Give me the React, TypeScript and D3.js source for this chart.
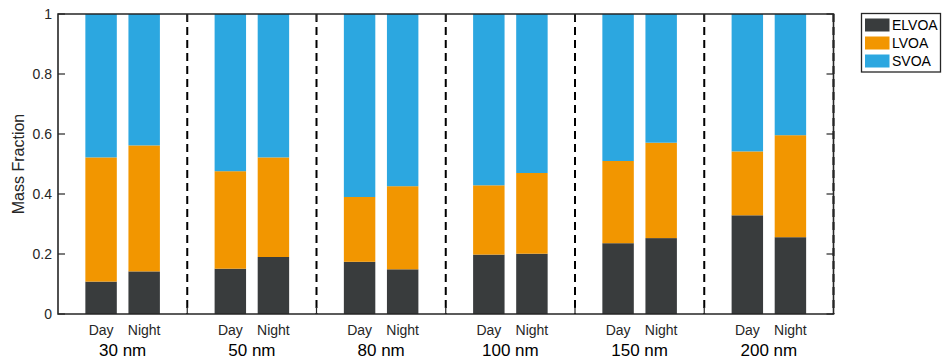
import React from "react";
import * as d3 from "d3";

const sizes = ["30 nm", "50 nm", "80 nm", "100 nm", "150 nm", "200 nm"];
const periods = ["Day", "Night"];
const seriesNames = ["ELVOA", "LVOA", "SVOA"];
const colors = ["#393c3d", "#f29600", "#2ca7e0"];
// ELVOA and LVOA fractions, order: 30 Day, 30 Night, 50 Day, ...
const elvoa = [0.108, 0.142, 0.151, 0.19, 0.174, 0.149, 0.198, 0.201, 0.236, 0.253, 0.329, 0.256];
const lvoa = [0.414, 0.42, 0.325, 0.332, 0.216, 0.277, 0.231, 0.269, 0.274, 0.318, 0.213, 0.34];
const svoa = elvoa.map((e, i) => 1 - e - lvoa[i]);
const yTicks = [0, 0.2, 0.4, 0.6, 0.8, 1];

export default function App() {
  const W = 945, H = 364;
  const left = 58, right = 833.5, top = 14, bottom = 314;
  const x = d3.scaleLinear().domain([0, 18]).range([left, right]);
  const y = d3.scaleLinear().domain([0, 1]).range([bottom, top]);
  const barW = 0.73;
  const data = elvoa.map((e, i) => ({ i, vals: [e, lvoa[i], svoa[i]] }));
  const stacked = d3.stack<any>().keys(["0", "1", "2"]).value((d: any, k: string) => d.vals[+k])(data);
  const pos = (i: number) => Math.floor(i / 2) * 3 + 1 + (i % 2);
  const font = "Arial, 'Liberation Sans', Helvetica, sans-serif";
  const axisColor = "#262626";
  const bounds = [3, 6, 9, 12, 15, 18];
  return (
    <svg width={W} height={H} style={{ position: "absolute", left: 0, top: 0, background: "#fff" }} fontFamily={font}>
      {stacked.map((layer, s) =>
        layer.map((d, i) => (
          <rect
            key={`${s}-${i}`}
            x={x(pos(i) - barW / 2)}
            width={x(barW) - x(0)}
            y={y(d[1])}
            height={y(d[0]) - y(d[1])}
            fill={colors[s]}
          />
        ))
      )}
      {bounds.map((b) => (
        <line key={`d${b}`} x1={x(b)} x2={x(b)} y1={top} y2={bottom} stroke="#000" strokeWidth={2} strokeDasharray="8,5" />
      ))}
      {/* axes box */}
      <path d={`M${left},${top}H${right}V${bottom}H${left}Z`} fill="none" stroke={axisColor} strokeWidth={1.6} />
      {yTicks.map((t) => (
        <g key={`y${t}`}>
          <line x1={left} x2={left + 7} y1={y(t)} y2={y(t)} stroke={axisColor} strokeWidth={1.2} />
          <line x1={right - 7} x2={right} y1={y(t)} y2={y(t)} stroke={axisColor} strokeWidth={1.2} />
          <text x={left - 6} y={y(t)} dy="0.35em" textAnchor="end" fontSize={14} fill={axisColor}>
            {t}
          </text>
        </g>
      ))}
      {bounds.slice(0, 5).map((b) => (
        <g key={`xt${b}`}>
          <line x1={x(b)} x2={x(b)} y1={bottom} y2={bottom - 7} stroke={axisColor} strokeWidth={1.2} />
          <line x1={x(b)} x2={x(b)} y1={top} y2={top + 7} stroke={axisColor} strokeWidth={1.2} />
        </g>
      ))}
      {elvoa.map((_, i) => (
        <text key={`p${i}`} x={x(pos(i))} y={334.5} textAnchor="middle" fontSize={14} fill={axisColor}>
          {periods[i % 2]}
        </text>
      ))}
      {sizes.map((s, g) => (
        <text key={`s${g}`} x={x(g * 3 + 1.5)} y={355.5} textAnchor="middle" fontSize={17} fill="#000">
          {s}
        </text>
      ))}
      <text transform={`translate(24,164) rotate(-90)`} textAnchor="middle" fontSize={16} fill={axisColor}>
        Mass Fraction
      </text>
      {/* legend */}
      <rect x={861.5} y={13.5} width={79} height={58.5} fill="#fff" stroke={axisColor} strokeWidth={1.3} />
      {seriesNames.map((n, k) => (
        <g key={n}>
          <rect x={865} y={18.5 + k * 18} width={24.5} height={13} fill={colors[k]} />
          <text x={892} y={25 + k * 18} dy="0.35em" fontSize={14} fill="#000">
            {n}
          </text>
        </g>
      ))}
    </svg>
  );
}
